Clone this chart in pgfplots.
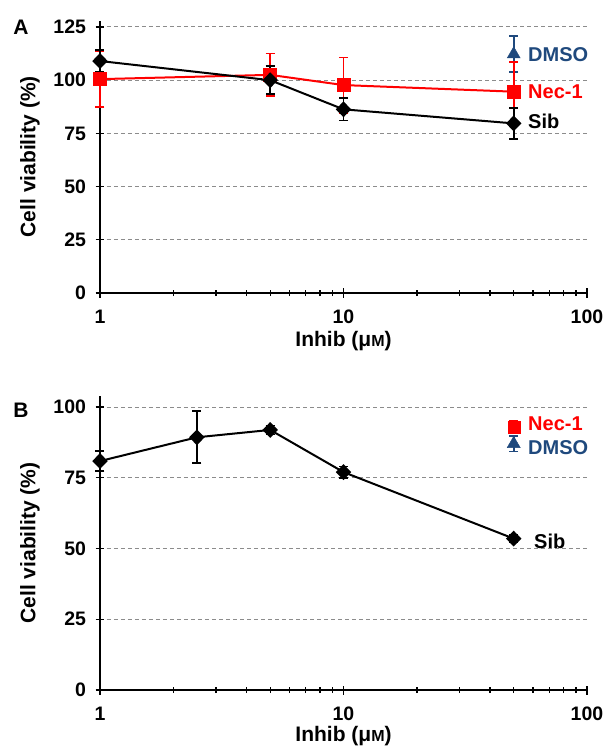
\documentclass[border=0pt]{standalone}
\usepackage{fontspec}
\setmainfont{Liberation Sans}
\usepackage{pgfplots}
\pgfplotsset{compat=1.18}
\definecolor{dmsoblue}{HTML}{1F497D}
\definecolor{gridgray}{HTML}{8C8C8C}
\newcommand{\lblfont}{\fontsize{21}{24}\selectfont\bfseries}
\newcommand{\serfont}{\fontsize{20}{23}\selectfont\bfseries}
\newcommand{\tickfont}{\fontsize{19.5}{22}\selectfont\bfseries}

\begin{document}
\begin{tikzpicture}
\path[use as bounding box] (-100pt,-459pt) rectangle (513pt,293pt);

% Panel A
\begin{axis}[
  at={(0pt,0pt)}, anchor=south west,
  scale only axis, width=487pt, height=272.4pt,
  xmode=log, xmin=1, xmax=100,
  xtick={1,10,100}, xticklabels={1,10,100},
  ymin=0, ymax=128, ytick={0,25,50,75,100,125},
  yticklabels={0,25,50,75,100,125},
  axis x line*=bottom, axis y line*=left,
  axis line style={line width=2pt},
  tick align=center,
  major tick length=9pt, minor tick length=6pt,
  tick style={line width=1.4pt,black},
  ymajorgrids,
  major grid style={dash pattern=on 4pt off 3pt,gridgray,line width=1pt},
  tick label style={font=\tickfont},
  xticklabel style={yshift=-9pt},
  yticklabel style={xshift=-6pt},
  xlabel={Inhib (μ{\fontsize{16}{16}\selectfont M})},
  ylabel={Cell viability (\%)},
  every axis label/.append style={font=\lblfont},
  every axis x label/.style={at={(axis description cs:0.5,0)},anchor=center,yshift=-48pt},
  every axis y label/.style={at={(axis description cs:-0.144,0.5)},anchor=center,rotate=90},
  clip=false,
]
  \addplot[dmsoblue, only marks, mark=triangle*, mark size=7.5pt,
    error bars/.cd, y dir=both, y explicit,
    error bar style={line width=1.8pt,dmsoblue},
    error mark options={rotate=90,mark size=4.5pt,line width=1.8pt,dmsoblue}]
    coordinates {(50,112.2) +- (0,8.5)};
  \addplot[red, line width=2pt, mark=square*, mark size=6pt,
    error bars/.cd, y dir=both, y explicit,
    error bar style={line width=1.8pt,red},
    error mark options={rotate=90,mark size=4.5pt,line width=1.8pt,red}]
    coordinates {
    (1,100.5) +- (0,13)
    (5,102.5) +- (0,10)
    (10,97.7) +- (0,13)
    (50,94.6) +- (0,14)
  };
  \addplot[black, line width=2pt, mark=diamond*, mark size=6.5pt,
    mark options={xscale=1.3},
    error bars/.cd, y dir=both, y explicit,
    error bar style={line width=1.8pt,black},
    error mark options={rotate=90,mark size=4.5pt,line width=1.8pt,black}]
    coordinates {
    (1,109) +- (0,5.3)
    (5,100) +- (0,6.5)
    (10,86.3) +- (0,5.2)
    (50,79.7) +- (0,7.3)
  };
  \node[font=\serfont,text=dmsoblue,anchor=west,xshift=11pt] at (axis cs:50,112.2) {DMSO};
  \node[font=\serfont,text=red,anchor=west,xshift=11pt] at (axis cs:50,94.6) {Nec-1};
  \node[font=\serfont,text=black,anchor=west,xshift=11pt] at (axis cs:50,80.5) {Sib};
\end{axis}

% Panel B
\begin{axis}[
  at={(0pt,-397pt)}, anchor=south west,
  scale only axis, width=487pt, height=294.3pt,
  xmode=log, xmin=1, xmax=100,
  xtick={1,10,100}, xticklabels={1,10,100},
  ymin=0, ymax=104, ytick={0,25,50,75,100},
  yticklabels={0,25,50,75,100},
  axis x line*=bottom, axis y line*=left,
  axis line style={line width=2pt},
  tick align=center,
  major tick length=9pt, minor tick length=6pt,
  tick style={line width=1.4pt,black},
  ymajorgrids,
  major grid style={dash pattern=on 4pt off 3pt,gridgray,line width=1pt},
  tick label style={font=\tickfont},
  xticklabel style={yshift=-9pt},
  yticklabel style={xshift=-6pt},
  xlabel={Inhib (μ{\fontsize{16}{16}\selectfont M})},
  ylabel={Cell viability (\%)},
  every axis label/.append style={font=\lblfont},
  every axis x label/.style={at={(axis description cs:0.5,0)},anchor=center,yshift=-46pt},
  every axis y label/.style={at={(axis description cs:-0.144,0.5)},anchor=center,rotate=90},
  clip=false,
]
  \addplot[black, line width=2pt, mark=diamond*, mark size=6.5pt,
    mark options={xscale=1.3},
    error bars/.cd, y dir=both, y explicit,
    error bar style={line width=1.8pt,black},
    error mark options={rotate=90,mark size=4.5pt,line width=1.8pt,black}]
    coordinates {
    (1,80.9) +- (0,3.6)
    (2.5,89.3) +- (0,9.2)
    (5,91.9) +- (0,1.6)
    (10,77) +- (0,2)
    (50,53.5) +- (0,1.2)
  };
  \addplot[red, only marks, mark=square*, mark size=6pt,
    error bars/.cd, y dir=both, y explicit,
    error bar style={line width=1.8pt,red},
    error mark options={rotate=90,mark size=4.5pt,line width=1.8pt,red}]
    coordinates {(50,93) +- (0,2)};
  \addplot[dmsoblue, only marks, mark=triangle*, mark size=7.5pt,
    error bars/.cd, y dir=both, y explicit,
    error bar style={line width=1.8pt,dmsoblue},
    error mark options={rotate=90,mark size=4.5pt,line width=1.8pt,dmsoblue}]
    coordinates {(50,87) +- (0,2.7)};
  \node[font=\serfont,text=red,anchor=west,xshift=11pt] at (axis cs:50,94.2) {Nec-1};
  \node[font=\serfont,text=dmsoblue,anchor=west,xshift=11pt] at (axis cs:50,85.8) {DMSO};
  \node[font=\serfont,text=black,anchor=west,xshift=17pt] at (axis cs:50,52.7) {Sib};
\end{axis}

\node[font=\lblfont] at (-79pt,266pt) {A};
\node[font=\lblfont] at (-79pt,-117pt) {B};
\end{tikzpicture}
\end{document}
